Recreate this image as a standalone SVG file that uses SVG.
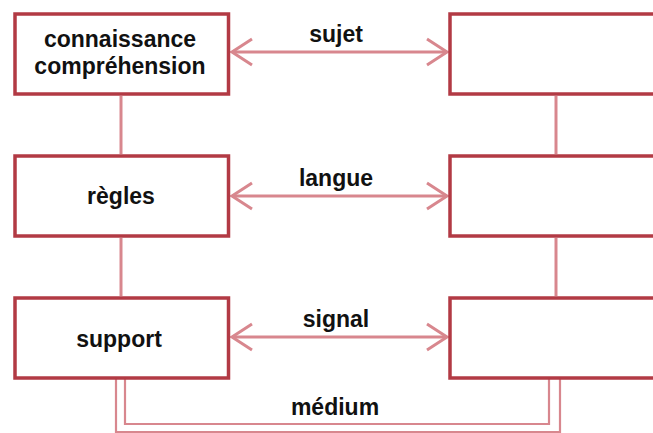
<svg xmlns="http://www.w3.org/2000/svg" width="653" height="433" viewBox="0 0 653 433">
  <style>
    .box { fill: #ffffff; stroke: #b23a44; stroke-width: 3.5; }
    .lbl { font-family: "Liberation Sans", Arial, sans-serif; font-weight: bold; font-size: 23px; fill: #111111; text-anchor: middle; }
    .link { fill: none; stroke: #d8878e; stroke-width: 3; }
    .thin { fill: none; stroke: #d8878e; stroke-width: 2.2; }
    .arrow { fill: none; stroke: #d8878e; stroke-width: 3; marker-start: url(#chev); marker-end: url(#chev); }
  </style>
  <defs>
    <marker id="chev" markerUnits="userSpaceOnUse" viewBox="-23 -16 26 32" refX="0" refY="0" markerWidth="26" markerHeight="32" orient="auto-start-reverse">
      <path d="M-20,-13 L0,0 L-20,13" fill="none" stroke="#d8878e" stroke-width="3"/>
    </marker>
  </defs>
  <rect width="653" height="433" fill="#ffffff"/>

  <g id="connectors">
    <!-- vertical links between the layers -->
    <line class="link" x1="121" y1="96" x2="121" y2="154"/>
    <line class="link" x1="121" y1="238" x2="121" y2="296"/>
    <line class="link" x1="556" y1="96" x2="556" y2="154"/>
    <line class="link" x1="556" y1="238" x2="556" y2="296"/>
    <!-- two-way arrows -->
    <line class="arrow" x1="232" y1="52" x2="447" y2="52"/>
    <line class="arrow" x1="232" y1="196" x2="447" y2="196"/>
    <line class="arrow" x1="232" y1="337" x2="447" y2="337"/>
    <!-- medium channel (double line) -->
    <path class="thin" d="M125,379 V424 H549 V379"/>
    <path class="thin" d="M116,379 V433 M116,432 H560 M560,379 V433"/>
    <text class="lbl" x="336" y="42">sujet</text>
    <text class="lbl" x="336" y="186">langue</text>
    <text class="lbl" x="336" y="327">signal</text>
    <text class="lbl" x="335" y="415">médium</text>
  </g>

  <g id="n-connaissance">
    <rect class="box" x="15" y="14" width="213.5" height="80"/>
    <text class="lbl" x="120" y="47">connaissance</text>
    <text class="lbl" x="120" y="74">compréhension</text>
  </g>
  <g id="n-regles">
    <rect class="box" x="15" y="156" width="213.5" height="80"/>
    <text class="lbl" x="121" y="204">règles</text>
  </g>
  <g id="n-support">
    <rect class="box" x="15" y="298" width="213.5" height="80"/>
    <text class="lbl" x="119" y="347">support</text>
  </g>
  <g id="n-right-1">
    <rect class="box" x="450" y="14" width="230" height="80"/>
  </g>
  <g id="n-right-2">
    <rect class="box" x="450" y="156" width="230" height="80"/>
  </g>
  <g id="n-right-3">
    <rect class="box" x="450" y="298" width="230" height="80"/>
  </g>
</svg>
